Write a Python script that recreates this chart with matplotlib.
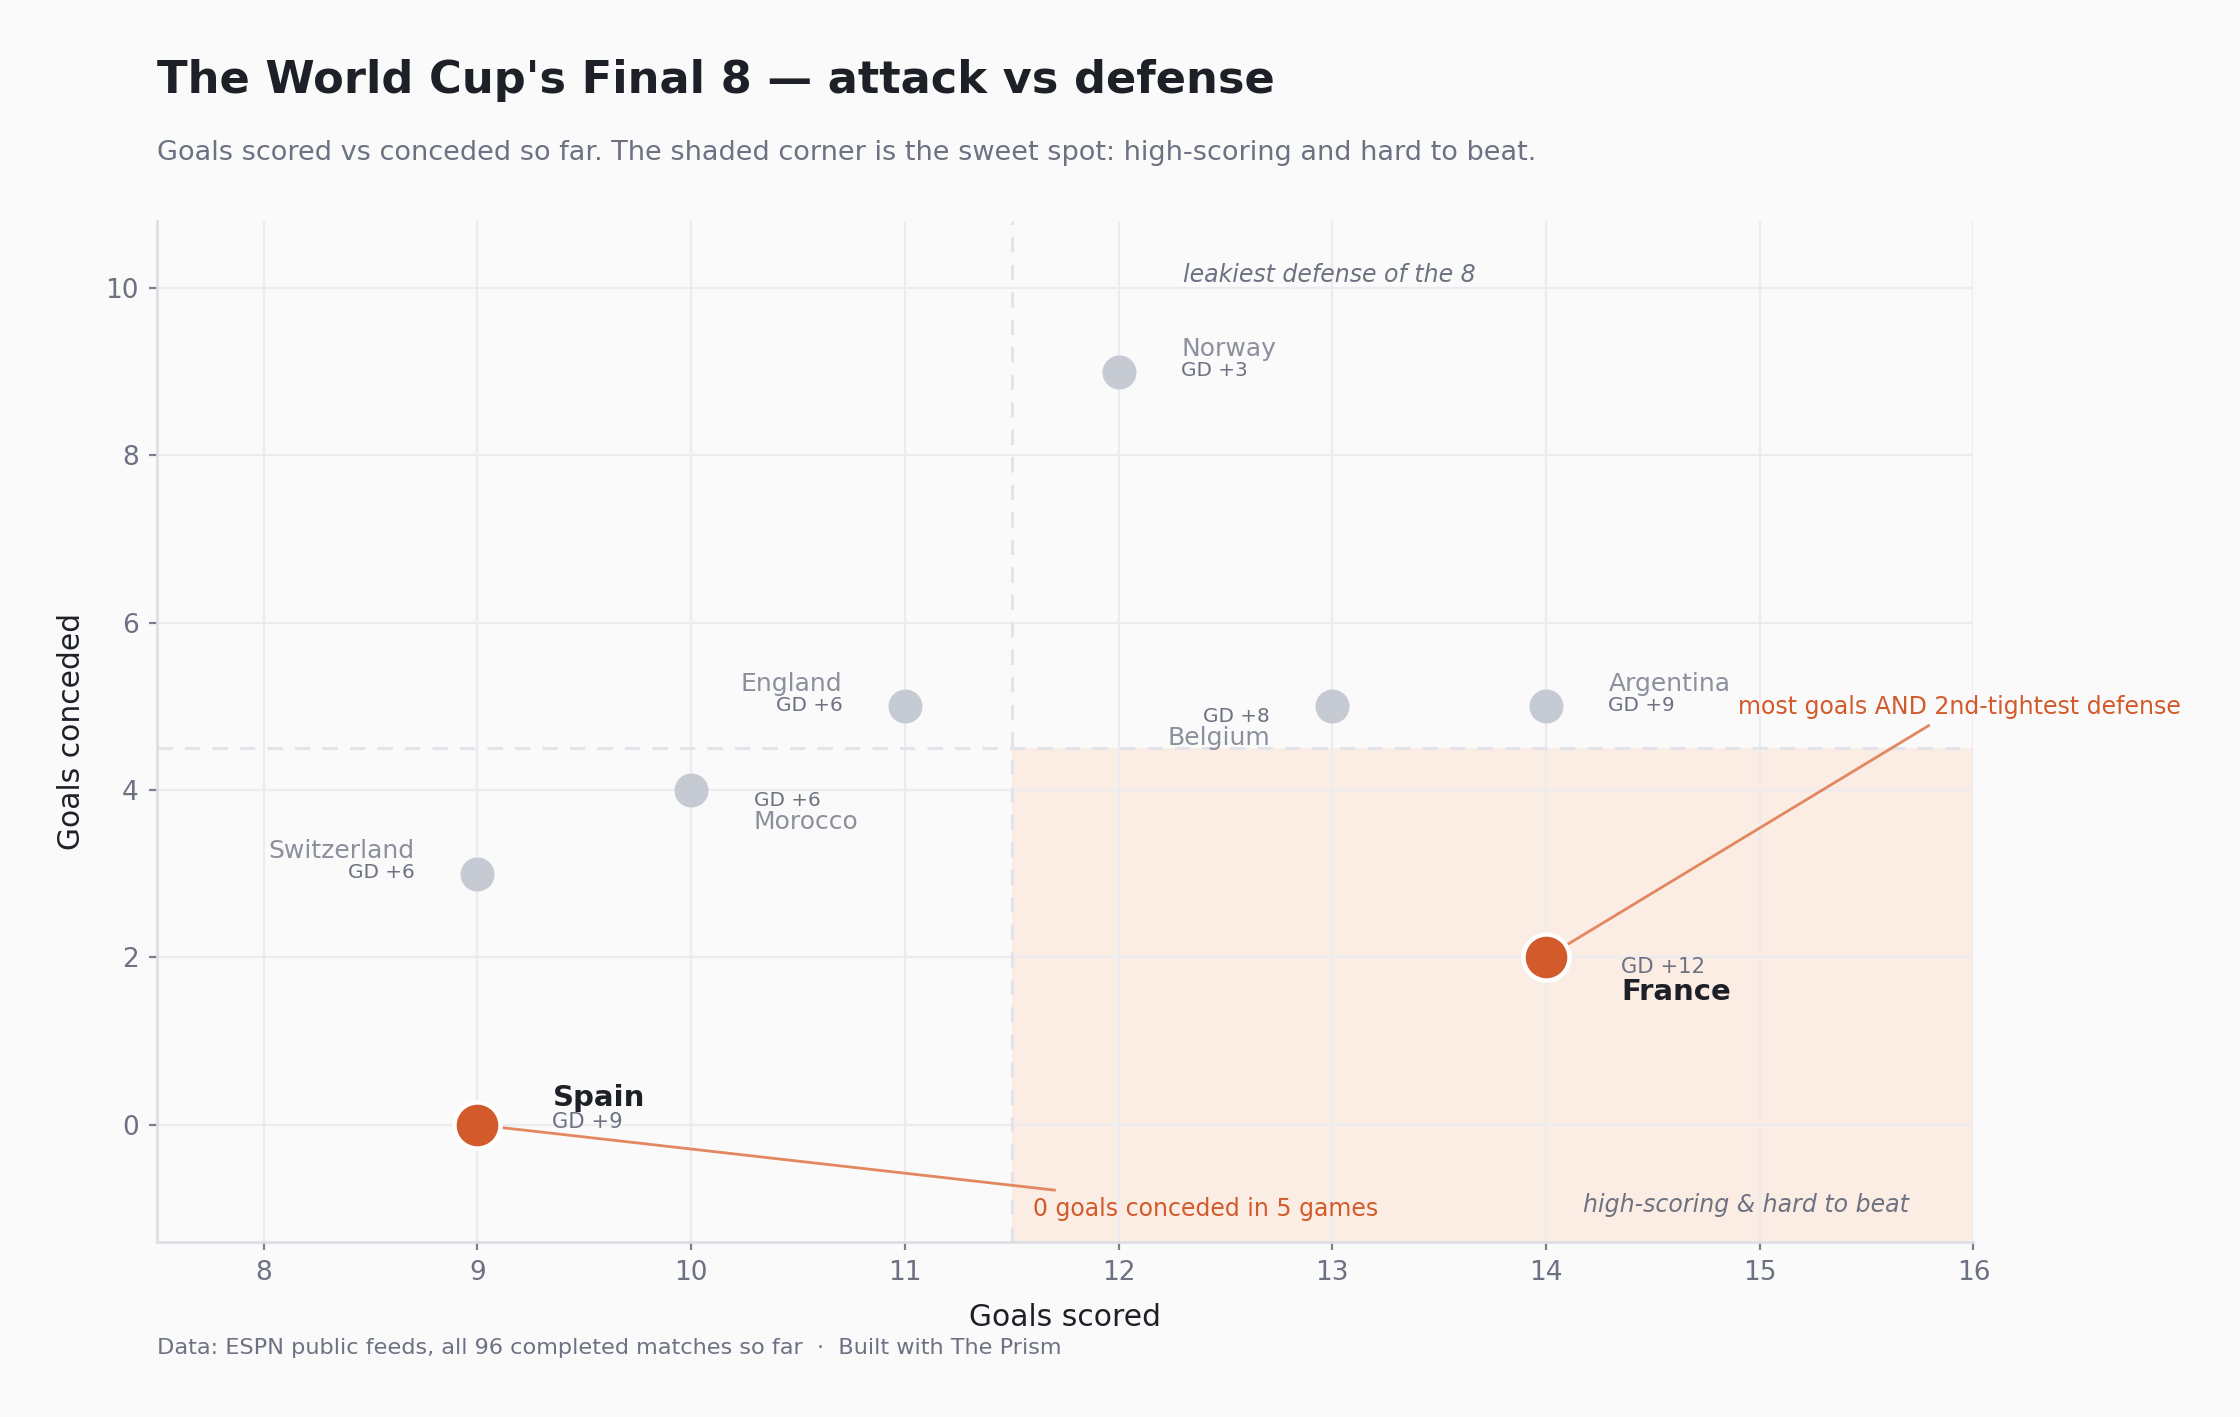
import numpy as np
import matplotlib.pyplot as plt

teams = ["Spain", "Switzerland", "Morocco", "England", "Norway", "Belgium", "Argentina", "France"]
scored = [9, 9, 10, 11, 12, 13, 14, 14]
conceded = [0, 3, 4, 5, 9, 5, 5, 2]
goal_diff = ["+9", "+6", "+6", "+6", "+3", "+8", "+9", "+12"]
highlight = ["Spain", "France"]
# where each label sits: (side, above/below)
label_pos = {"Spain": ("right", "above"), "Switzerland": ("left", "above"),
             "Morocco": ("right", "below"), "England": ("left", "above"),
             "Norway": ("right", "above"), "Belgium": ("left", "below"),
             "Argentina": ("right", "above"), "France": ("right", "below")}

BG = "#fafafa"
ORANGE = "#d35a2b"
GREY_DOT = "#c6cad2"
DARK = "#1d2027"
MUTED = "#6d7282"
LIGHT = "#8c909c"

fig = plt.figure(figsize=(11.2, 7.085), dpi=200, facecolor=BG)
ax = fig.add_axes([0.070, 0.1235, 0.811, 0.7205], facecolor=BG)

ax.set_xlim(7.5, 16)
ax.set_ylim(-1.4, 10.8)

# sweet spot corner + split lines
ax.axvspan(11.5, 16, ymin=0, ymax=(4.5 + 1.4) / 12.2, color="#fbede4", zorder=0, lw=0)
ax.axvline(11.5, color="#e3e4ea", ls="--", lw=1.1, dashes=(5, 4), zorder=1)
ax.axhline(4.5, color="#e3e4ea", ls="--", lw=1.1, dashes=(5, 4), zorder=1)

ax.set_xticks(range(8, 17))
ax.set_yticks(range(0, 11, 2))
ax.grid(True, color="#ececf0", lw=0.8, zorder=0.5)
ax.set_axisbelow(True)
for s in ["top", "right"]:
    ax.spines[s].set_visible(False)
for s in ["left", "bottom"]:
    ax.spines[s].set_color("#dedfe5")
    ax.spines[s].set_linewidth(1.0)
ax.tick_params(colors="#7b8090", labelcolor=MUTED, labelsize=9.5, length=3, width=0.8)

ax.set_xlabel("Goals scored", fontsize=10.7, color=DARK, labelpad=6)
ax.set_ylabel("Goals conceded", fontsize=10.7, color=DARK, labelpad=7)

# annotation lines (drawn under the dots)
ax.plot([9, 11.7], [0, -0.78], color="#e2875f", lw=1.0, zorder=2)
ax.plot([14, 15.79], [2, 4.77], color="#e2875f", lw=1.0, zorder=2)
ax.text(11.6, -1.0, "0 goals conceded in 5 games", color=ORANGE, fontsize=8.5,
        ha="left", va="center", zorder=5)
ax.text(14.9, 4.99, "most goals AND 2nd-tightest defense", color=ORANGE, fontsize=8.5,
        ha="left", va="center", zorder=5, clip_on=False)

for t, x, y, gd in zip(teams, scored, conceded, goal_diff):
    hl = t in highlight
    side, vert = label_pos[t]
    sign = 1 if side == "right" else -1
    ha = "left" if side == "right" else "right"
    if hl:
        ax.scatter(x, y, s=275, color=ORANGE, edgecolor="white", linewidth=1.6, zorder=4)
        dx = 27 * sign
        name_kw = dict(fontsize=10.5, color=DARK, fontweight="bold")
        gd_size = 7.6
        ny, gy = (9.8, 1) if vert == "above" else (-12.3, -3.6)
    else:
        ax.scatter(x, y, s=150, color=GREY_DOT, linewidth=0, zorder=3)
        dx = 22.5 * sign
        name_kw = dict(fontsize=9, color=LIGHT)
        gd_size = 7.2
        ny, gy = (8.2, 0.5) if vert == "above" else (-11.5, -3.8)
    ax.annotate(t, (x, y), xytext=(dx, ny), textcoords="offset points", ha=ha, va="center", zorder=5, **name_kw)
    ax.annotate("GD " + gd, (x, y), xytext=(dx, gy), textcoords="offset points",
                ha=ha, va="center", fontsize=gd_size, color=MUTED, zorder=5)

ax.text(12.3, 10.15, "leakiest defense of the 8", style="italic", color=MUTED, fontsize=8.5, ha="left", va="center")
ax.text(15.7, -0.96, "high-scoring & hard to beat", style="italic", color=MUTED, fontsize=8.5, ha="right", va="center")

fig.text(0.070, 0.943, "The World Cup's Final 8 \u2014 attack vs defense", fontsize=16.1, fontweight="bold",
         color=DARK, ha="left", va="center")
fig.text(0.070, 0.892, "Goals scored vs conceded so far. The shaded corner is the sweet spot: high-scoring and hard to beat.",
         fontsize=9.75, color=MUTED, ha="left", va="center")
fig.text(0.070, 0.049, "Data: ESPN public feeds, all 96 completed matches so far  \u00b7  Built with The Prism",
         fontsize=8.05, color=MUTED, ha="left", va="center")

fig.savefig("out.png", dpi=200, facecolor=BG)
